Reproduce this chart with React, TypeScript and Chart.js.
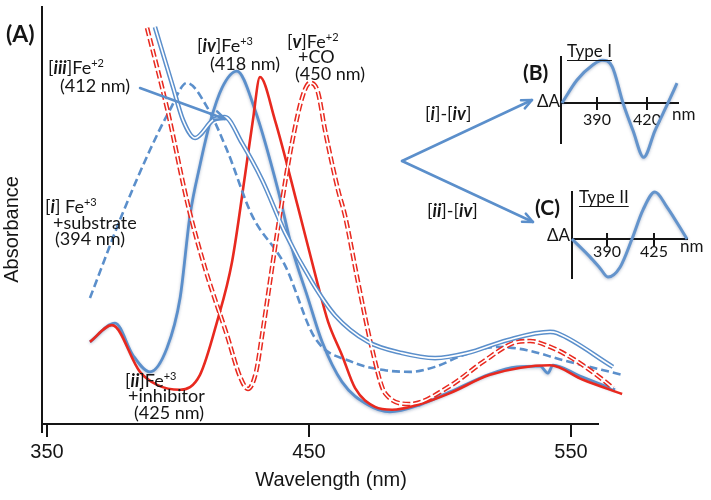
import React, { useEffect, useRef } from "react";
import { Chart, registerables } from "chart.js";

Chart.register(...registerables);

const BLUE = "#5b8fcb";
const RED = "#e8291f";
const INK = "#151515";
const SANS = "'Liberation Sans', Arial, sans-serif";
const HUM = "Lato, 'Open Sans', sans-serif";

// ---------- Panel (A): absorbance spectra ----------
const xTicksA = [350, 450, 550];

// [iv] Fe+3 (418 nm) – solid blue
const wlFe3 = [366.4, 376.0, 382.8, 389.3, 395.8, 400.8, 404.6, 408.4, 412.2, 416.8, 422.5, 429.4, 438.2, 443.5, 449.6, 455.0, 462.6, 472.5, 480.9, 492.4, 503.8, 519.1, 529.4, 538.2, 541.2, 543.1, 553.4, 566.8];
const absFe3 = [19.7, 24.2, 16.5, 12.5, 18.2, 30.2, 50.1, 62.1, 72.2, 80.6, 84.6, 75.3, 56.1, 42.2, 30.2, 19.7, 10.1, 4.6, 2.9, 4.6, 7.7, 12.0, 13.7, 13.9, 12.2, 14.1, 11.5, 8.2];

// [ii] Fe+3 + inhibitor (425 nm) – solid red
const wlInhib = [366.4, 374.8, 385.5, 392.0, 400.8, 408.4, 414.9, 420.6, 425.6, 428.6, 431.3, 437.0, 445.8, 453.1, 457.3, 462.6, 467.6, 475.2, 481.7, 491.6, 503.8, 519.1, 542.0, 554.6, 569.5];
const absInhib = [19.7, 23.7, 12.5, 9.4, 8.2, 11.8, 24.5, 38.8, 59.7, 72.9, 83.2, 72.9, 52.0, 34.1, 24.5, 16.5, 8.6, 4.1, 3.4, 4.6, 7.4, 11.8, 14.1, 10.6, 7.2];

// [i] Fe+3 + substrate (394 nm) – dashed blue
const wlSubst = [366.4, 378.6, 389.3, 396.9, 403.4, 411.1, 418.7, 428.2, 440.8, 452.3, 466.4, 479.0, 488.5, 498.1, 508.8, 521.8, 533.2, 546.9, 569.5];
const absSubst = [30.2, 50.1, 65.7, 75.3, 81.8, 76.0, 65.7, 50.1, 38.1, 20.6, 14.9, 12.9, 12.5, 13.7, 16.5, 18.5, 17.7, 15.3, 11.8];

// [iii] Fe+2 (412 nm) – double blue line
const wlFe2 = [391.2, 398.1, 401.9, 406.5, 413.4, 417.9, 424.4, 432.1, 440.8, 451.1, 459.9, 472.5, 485.5, 498.1, 510.3, 525.6, 542.0, 544.7, 566.0];
const absFe2 = [95.2, 80.8, 72.9, 68.6, 72.9, 73.6, 67.4, 58.5, 46.0, 34.1, 26.1, 19.7, 17.0, 15.8, 17.0, 20.1, 22.1, 21.8, 13.7];

// [v] Fe+2 + CO (450 nm) – double dashed red line
const wlCO = [388.2, 395.8, 403.8, 410.3, 418.7, 423.7, 426.7, 429.8, 432.1, 435.1, 438.9, 443.5, 447.7, 450.4, 453.4, 456.1, 461.1, 463.7, 468.7, 474.0, 479.0, 488.5, 503.8, 516.4, 527.9, 534.4, 542.0, 549.6, 562.2, 566.0];
const absCO = [95.0, 75.8, 52.5, 37.4, 21.3, 11.3, 8.4, 12.5, 21.3, 34.1, 50.1, 67.4, 78.9, 81.8, 79.6, 70.5, 56.1, 50.1, 34.1, 18.2, 7.4, 4.8, 9.1, 14.9, 19.4, 19.9, 18.5, 16.1, 10.6, 8.6];

// ---------- Panel (B): Type I difference spectrum ----------
const xTicksB = [390, 420];
const wlTypeI = [369.0, 378.0, 387.6, 393.0, 399.0, 405.6, 411.6, 418.0, 424.8, 432.6, 438.0];
const dATypeI = [0, 0.5, 0.83, 0.93, 0.8, 0, -0.6, -1.18, -0.6, 0, 0.43];

// ---------- Panel (C): Type II difference spectrum ----------
const xTicksC = [390, 425];
const wlTypeII = [363.9, 377.3, 384.8, 390.7, 399.7, 408.6, 416.8, 425.7, 434.7, 449.6];
const dATypeII = [0, -0.38, -0.62, -0.81, -0.6, 0, 0.62, 1.0, 0.68, 0];

const pts = (xs: number[], ys: number[]) => xs.map((x, i) => ({ x, y: ys[i] }));

type Run = { t: string; s?: "n" | "bi" | "sup" | "b" };

function drawRich(ctx: CanvasRenderingContext2D, runs: Run[], x: number, y: number, size: number, family = HUM) {
  const fontFor = (s?: string) =>
    s === "bi" ? `italic bold ${size}px ${family}` : s === "b" ? `bold ${size}px ${family}` : s === "sup" ? `${Math.round(size * 0.62)}px ${family}` : `${size}px ${family}`;
  let cx = x;
  ctx.save();
  ctx.fillStyle = INK;
  ctx.textBaseline = "alphabetic";
  ctx.textAlign = "left";
  for (const r of runs) {
    ctx.font = fontFor(r.s);
    ctx.fillText(r.t, cx, r.s === "sup" ? y - size * 0.4 : y);
    cx += ctx.measureText(r.t).width;
  }
  ctx.restore();
  return cx - x;
}

function arrow(ctx: CanvasRenderingContext2D, x1: number, y1: number, x2: number, y2: number, color: string, w: number, head = 11) {
  ctx.save();
  ctx.strokeStyle = color;
  ctx.lineWidth = w;
  ctx.lineCap = "round";
  ctx.lineJoin = "round";
  ctx.beginPath();
  ctx.moveTo(x1, y1);
  ctx.lineTo(x2, y2);
  ctx.stroke();
  const a = Math.atan2(y2 - y1, x2 - x1);
  ctx.beginPath();
  ctx.moveTo(x2 - head * Math.cos(a - 0.42), y2 - head * Math.sin(a - 0.42));
  ctx.lineTo(x2, y2);
  ctx.lineTo(x2 - head * Math.cos(a + 0.42), y2 - head * Math.sin(a + 0.42));
  ctx.stroke();
  ctx.restore();
}

const annotationsA = {
  id: "annotationsA",
  afterDraw(chart: any) {
    const ctx: CanvasRenderingContext2D = chart.ctx;
    const S = 18;
    // y axis continues a little below the x axis (the 350 nm corner tick)
    const { left, bottom } = chart.chartArea;
    ctx.save();
    ctx.strokeStyle = INK;
    ctx.lineWidth = 2;
    ctx.beginPath();
    ctx.moveTo(left, bottom);
    ctx.lineTo(left, bottom + 9);
    ctx.stroke();
    ctx.restore();

    drawRich(ctx, [{ t: "(A)", s: "b" }], 6, 42, 23);
    drawRich(ctx, [{ t: "[" }, { t: "iii", s: "bi" }, { t: "]Fe" }, { t: "+2", s: "sup" }], 48, 74, S);
    drawRich(ctx, [{ t: "(412 nm)" }], 60, 92, S);
    drawRich(ctx, [{ t: "[" }, { t: "iv", s: "bi" }, { t: "]Fe" }, { t: "+3", s: "sup" }], 197, 52, S);
    drawRich(ctx, [{ t: "(418 nm)" }], 210, 70, S);
    drawRich(ctx, [{ t: "[" }, { t: "v", s: "bi" }, { t: "]Fe" }, { t: "+2", s: "sup" }], 287, 48, S);
    drawRich(ctx, [{ t: "+CO" }], 298, 63, S);
    drawRich(ctx, [{ t: "(450 nm)" }], 295, 80, S);
    drawRich(ctx, [{ t: "[" }, { t: "i", s: "bi" }, { t: "] Fe" }, { t: "+3", s: "sup" }], 45, 213, S);
    drawRich(ctx, [{ t: "+substrate" }], 53, 229, S);
    drawRich(ctx, [{ t: "(394 nm)" }], 55, 245, S);
    drawRich(ctx, [{ t: "[" }, { t: "ii", s: "bi" }, { t: "]Fe" }, { t: "+3", s: "sup" }], 125, 387, S);
    drawRich(ctx, [{ t: "+inhibitor" }], 128, 402, S);
    drawRich(ctx, [{ t: "(425 nm)" }], 134, 419, S);
    drawRich(ctx, [{ t: "[" }, { t: "i", s: "bi" }, { t: "]-[" }, { t: "iv", s: "bi" }, { t: "]" }], 425, 120, S);
    drawRich(ctx, [{ t: "[" }, { t: "ii", s: "bi" }, { t: "]-[" }, { t: "iv", s: "bi" }, { t: "]" }], 427, 217, S);
    arrow(ctx, 140, 88, 225, 119, BLUE, 2.5);
    arrow(ctx, 402, 161, 532, 100, BLUE, 2.5);
    arrow(ctx, 402, 161, 533, 222, BLUE, 2.5);
  },
};

// soft glow on the solid blue traces, as in the original figure
const glow = {
  id: "glow",
  beforeDatasetDraw(chart: any, args: any) {
    const ds = chart.data.datasets[args.index];
    if (ds && ds.glow) {
      const ctx = chart.ctx;
      ctx.save();
      ctx.shadowColor = "rgba(40,70,120,0.35)";
      ctx.shadowBlur = 3;
      ctx.shadowOffsetY = 1;
    }
  },
  afterDatasetDraw(chart: any, args: any) {
    const ds = chart.data.datasets[args.index];
    if (ds && ds.glow) chart.ctx.restore();
  },
};

function lineDs(data: any[], color: string, width: number, order: number, dash: number[] = [], glowOn = false) {
  return {
    data,
    borderColor: color,
    borderWidth: width,
    borderDash: dash,
    pointRadius: 0,
    fill: false,
    cubicInterpolationMode: "monotone",
    clip: false,
    order,
    glow: glowOn,
  };
}

function MainChart() {
  const ref = useRef<HTMLCanvasElement | null>(null);
  useEffect(() => {
    if (!ref.current) return;
    const chart = new Chart(ref.current, {
      type: "line",
      data: {
        datasets: [
          lineDs(pts(wlFe2, absFe2), "#ffffff", 1.6, 0),
          lineDs(pts(wlFe2, absFe2), BLUE, 4.6, 1),
          lineDs(pts(wlCO, absCO), "#ffffff", 1.6, 0),
          lineDs(pts(wlCO, absCO), RED, 4.6, 1, [8, 3]),
          lineDs(pts(wlSubst, absSubst), BLUE, 2.6, 2, [8, 4]),
          lineDs(pts(wlFe3, absFe3), BLUE, 2.8, 3, [], true),
          lineDs(pts(wlInhib, absInhib), RED, 2.6, 2),
        ] as any,
      },
      options: {
        animation: false,
        responsive: false,
        maintainAspectRatio: false,
        layout: { padding: { left: 0, top: 7, right: 113, bottom: 0 } },
        plugins: { legend: { display: false }, tooltip: { enabled: false } },
        scales: {
          x: {
            type: "linear",
            bounds: "data",
            afterDataLimits: (s: any) => {
              s.min = 348.1;
              s.max = 560.3;
            },
            afterBuildTicks: (s: any) => {
              s.ticks = xTicksA.map((v) => ({ value: v }));
            },
            afterFit: (s: any) => {
              s.height = 76;
            },
            border: { display: true, color: INK, width: 2 },
            grid: { display: true, drawOnChartArea: false, drawTicks: true, tickLength: 13, color: INK, lineWidth: 2 },
            ticks: { color: INK, font: { family: SANS, size: 20 }, padding: 3, maxRotation: 0, autoSkip: false },
            title: { display: true, text: "    Wavelength (nm)", color: INK, font: { family: SANS, size: 20 }, padding: { top: 0, bottom: 8 } },
          },
          y: {
            type: "linear",
            min: 0,
            max: 100,
            afterFit: (s: any) => {
              s.width = 42;
            },
            border: { display: true, color: INK, width: 2 },
            grid: { display: false },
            ticks: { display: false },
            title: { display: true, text: "Absorbance     ", color: INK, font: { family: SANS, size: 20 }, padding: { top: 0, bottom: 0 } },
          },
        } as any,
      },
      plugins: [glow, annotationsA],
    });
    return () => chart.destroy();
  }, []);
  return <canvas ref={ref} width={711} height={500} style={{ position: "absolute", left: 0, top: 0 }} />;
}

type TextItem = { runs: Run[]; x: number; y: number; size: number; align?: "right"; underline?: boolean; family?: string };

function Inset(props: {
  left: number; top: number; width: number; height: number;
  pad: { left: number; top: number; right: number; bottom: number };
  wl: number[]; dA: number[]; xMin: number; xMax: number; yMin: number; yMax: number;
  ticks: number[]; tickPad: number; texts: TextItem[];
}) {
  const ref = useRef<HTMLCanvasElement | null>(null);
  useEffect(() => {
    if (!ref.current) return;
    const p = props;
    const textPlugin = {
      id: "insetText",
      afterDraw(chart: any) {
        const ctx: CanvasRenderingContext2D = chart.ctx;
        const xs = chart.scales.x;
        const y0 = chart.scales.y.getPixelForValue(0);
        ctx.save();
        ctx.strokeStyle = INK;
        ctx.lineWidth = 2;
        ctx.beginPath();
        for (const v of p.ticks) {
          const px = xs.getPixelForValue(v);
          ctx.moveTo(px, y0 - 6);
          ctx.lineTo(px, y0);
        }
        ctx.stroke();
        ctx.restore();
        for (const t of p.texts) {
          let x = t.x;
          if (t.align === "right") {
            ctx.save();
            ctx.font = `${t.size}px ${t.family || HUM}`;
            const w = t.runs.reduce((a, r) => a + ctx.measureText(r.t).width, 0);
            ctx.restore();
            x = t.x - w;
          }
          const w = drawRich(ctx, t.runs, x, t.y, t.size, t.family || HUM);
          if (t.underline) {
            ctx.save();
            ctx.strokeStyle = INK;
            ctx.lineWidth = 1.2;
            ctx.beginPath();
            ctx.moveTo(x, t.y + 3.5);
            ctx.lineTo(x + w, t.y + 3.5);
            ctx.stroke();
            ctx.restore();
          }
        }
      },
    };
    const chart = new Chart(ref.current, {
      type: "line",
      data: { datasets: [lineDs(pts(p.wl, p.dA), "#6494cc", 3, 0, [], true)] as any },
      options: {
        animation: false,
        responsive: false,
        maintainAspectRatio: false,
        layout: { padding: p.pad },
        plugins: { legend: { display: false }, tooltip: { enabled: false } },
        scales: {
          x: {
            type: "linear",
            min: p.xMin,
            max: p.xMax,
            position: { y: 0 },
            afterBuildTicks: (s: any) => {
              s.ticks = p.ticks.map((v) => ({ value: v }));
            },
            border: { display: true, color: INK, width: 2 },
            grid: { display: true, drawOnChartArea: false, drawTicks: true, tickLength: 6, color: INK, lineWidth: 2 },
            ticks: { color: INK, font: { family: HUM, size: 16 }, padding: p.tickPad, maxRotation: 0, autoSkip: false },
          },
          y: {
            type: "linear",
            min: p.yMin,
            max: p.yMax,
            afterFit: (s: any) => {
              s.width = 0;
            },
            border: { display: true, color: INK, width: 2 },
            grid: { display: false },
            ticks: { display: false },
          },
        } as any,
      },
      plugins: [glow, textPlugin],
    });
    return () => chart.destroy();
  }, []);
  return (
    <canvas
      ref={ref}
      width={props.width}
      height={props.height}
      style={{ position: "absolute", left: props.left, top: props.top }}
    />
  );
}

export default function App() {
  return (
    <div style={{ position: "absolute", left: 0, top: 0, width: 711, height: 500, background: "#fff", overflow: "hidden" }}>
      <MainChart />
      <Inset
        left={515}
        top={35}
        width={196}
        height={135}
        pad={{ left: 46, top: 22, right: 33, bottom: 27 }}
        wl={wlTypeI}
        dA={dATypeI}
        xMin={368.4}
        xMax={438.6}
        yMin={-0.87}
        yMax={1}
        ticks={xTicksB}
        tickPad={1}
        texts={[
          { runs: [{ t: "(B)", s: "b" }], x: 8, y: 45, size: 21 },
          { runs: [{ t: "Type I" }], x: 52, y: 22, size: 17, underline: true },
          { runs: [{ t: "ΔA" }], x: 45, y: 72, size: 17, align: "right" },
          { runs: [{ t: "nm" }], x: 157, y: 85, size: 17 },
        ]}
      />
      <Inset
        left={515}
        top={175}
        width={196}
        height={125}
        pad={{ left: 57, top: 17, right: 24, bottom: 22 }}
        wl={wlTypeII}
        dA={dATypeII}
        xMin={363.9}
        xMax={449.6}
        yMin={-0.83}
        yMax={1}
        ticks={xTicksC}
        tickPad={-3}
        texts={[
          { runs: [{ t: "(C)", s: "b" }], x: 20, y: 40, size: 21 },
          { runs: [{ t: "Type II" }], x: 64, y: 28, size: 17, underline: true },
          { runs: [{ t: "ΔA" }], x: 55, y: 66, size: 17, align: "right" },
          { runs: [{ t: "nm" }], x: 165, y: 77, size: 17 },
        ]}
      />
    </div>
  );
}
